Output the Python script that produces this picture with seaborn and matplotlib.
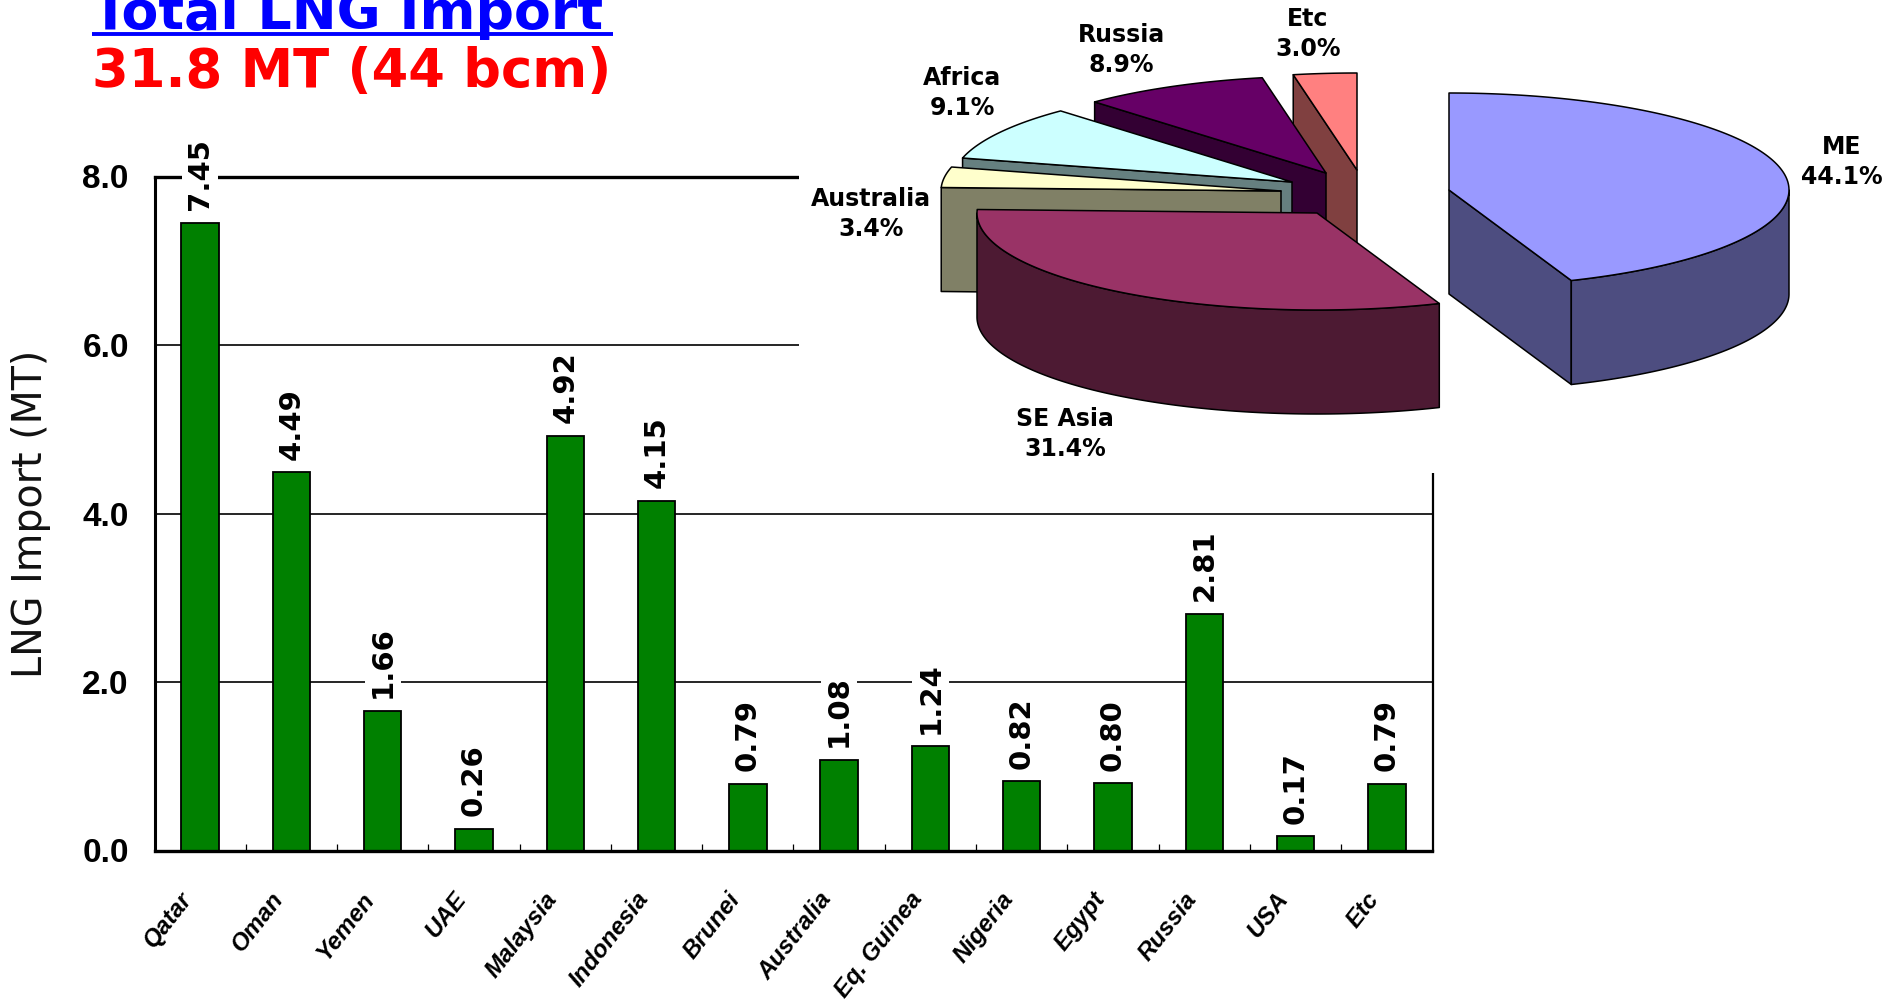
import numpy as np
import pandas as pd
import matplotlib
matplotlib.use("Agg")
import matplotlib.pyplot as plt
from matplotlib.patches import Rectangle
from matplotlib.transforms import ScaledTranslation
import seaborn as sns

# LNG import by source country (MT)
countries = ["Qatar", "Oman", "Yemen", "UAE", "Malaysia", "Indonesia", "Brunei",
             "Australia", "Eq. Guinea", "Nigeria", "Egypt", "Russia", "USA", "Etc"]
imports = [7.45, 4.49, 1.66, 0.26, 4.92, 4.15, 0.79, 1.08, 1.24, 0.82, 0.80, 2.81, 0.17, 0.79]
y_ticks = [0.0, 2.0, 4.0, 6.0, 8.0]

# Regional shares (%), clockwise from twelve o'clock
regions = ["ME", "SE Asia", "Australia", "Africa", "Russia", "Etc"]
shares = [44.1, 31.4, 3.4, 9.1, 8.9, 3.0]

# Slice styling and placement of the exploded 3-D pie, in canvas pixels
top_colors = ["#9999FF", "#993366", "#FFFFCC", "#CCFFFF", "#660066", "#FF8080"]
side_colors = ["#4D4D80", "#4D1A33", "#808066", "#668080", "#330033", "#804040"]
slice_centers = [(1449, 190), (1317, 213), (1281, 191), (1292, 182), (1326, 173), (1357, 170)]
label_centers = [(1842, 162), (1065, 434), (871, 214), (962, 93), (1121, 50), (1308, 34)]
RX, RY, DEPTH = 340, 97, 104

W, H = 1902, 1002
sns.set_theme(style="white")
plt.rcParams["font.family"] = ["DejaVu Sans"]
fig = plt.figure(figsize=(W / 100, H / 100), dpi=100, facecolor="white")

# Bar chart
L, R, T, B = 154.5, 1432.5, 176.5, 850.5
ax = fig.add_axes([L / W, 1 - B / H, (R - L) / W, (B - T) / H])
df = pd.DataFrame({"country": countries, "imports": imports})
sns.barplot(data=df, x="country", y="imports", color="#008000", saturation=1,
            width=0.41, edgecolor="black", linewidth=1.3, ax=ax, zorder=2)
ax.set_xlim(-0.5, len(countries) - 0.5)
ax.set_ylim(0, 8)
ax.set_axisbelow(True)
ax.yaxis.grid(True, color="black", linewidth=1.2)
ax.xaxis.grid(False)
ax.set_yticks(y_ticks)
ax.set_yticklabels([f"{t:.1f}" for t in y_ticks], fontfamily="Liberation Sans",
                   fontweight="bold", fontsize=24, color="black")
ax.tick_params(axis="y", length=0, pad=18.5)
ax.set_xlabel("")
ax.set_ylabel("LNG Import (MT)", fontsize=28.5, color="#111111", va="center")
ax.yaxis.set_label_coords((31 - L) / (R - L), 0.5)

ax.set_xticks(np.arange(len(countries)))
ax.set_xticks(np.arange(len(countries) - 1) + 0.5, minor=True)
ax.tick_params(axis="x", which="major", length=0, pad=32)
ax.tick_params(axis="x", which="minor", direction="in", length=5, width=0.9, color="black", bottom=True)
ax.set_xticklabels(countries, rotation=52, ha="right", va="center", rotation_mode="anchor",
                   fontfamily="Liberation Sans", fontweight="bold", fontstyle="italic",
                   fontsize=17.5, color="black")
shift = ScaledTranslation(-12 / 100, 0, fig.dpi_scale_trans)
for lab in ax.get_xticklabels():
    lab.set_transform(lab.get_transform() + shift)

for name, width in (("left", 2.2), ("bottom", 2.4), ("top", 2.4), ("right", 1.6)):
    ax.spines[name].set_visible(True)
    ax.spines[name].set_color("black")
    ax.spines[name].set_linewidth(width)

for i, v in enumerate(imports):
    ax.annotate(f"{v:.2f}", (i, v), xytext=(0, 9), textcoords="offset points",
                rotation=90, ha="center", va="bottom", fontsize=21, fontweight="bold",
                color="black", zorder=6, annotation_clip=False,
                bbox=dict(boxstyle="square,pad=0.14", fc="white", ec="none"))

# Canvas-wide overlay in pixel units for the titles and the pie
ov = fig.add_axes([0, 0, 1, 1], zorder=5)
ov.set_xlim(0, W)
ov.set_ylim(H, 0)
ov.axis("off")
ov.add_patch(Rectangle((799, -5), W - 799, 478, fc="white", ec="none", zorder=1))

ov.text(92, 29, "Total LNG Import", color="#0000FF", fontsize=38.7, fontweight="bold",
        va="baseline", ha="left", zorder=3)
ov.plot([92, 613], [33.5, 33.5], color="#0000FF", lw=2.8, solid_capstyle="butt", zorder=3)
ov.text(92, 87, "31.8 MT (44 bcm)", color="#FF0000", fontsize=38, fontweight="bold",
        va="baseline", ha="left", zorder=3)


def rim(a1, a2, cx, cy):
    """Rim points of the top face between two clockwise angles (degrees from north)."""
    t = np.radians(np.linspace(a1, a2, max(int(abs(a2 - a1)) * 2, 2)))
    return cx + RX * np.sin(t), cy - RY * np.cos(t)


fractions = np.array(shares) / np.sum(shares)
ends = np.cumsum(fractions) * 360
starts = ends - fractions * 360
edge = dict(edgecolor="black", linewidth=1.1, joinstyle="round")

# Painted from the back slice to the front one
for idx in range(len(shares) - 1, -1, -1):
    a1, a2 = starts[idx], ends[idx]
    cx, cy = slice_centers[idx]
    z = 10 + (len(shares) - idx)
    for ang, visible in ((a1, np.sin(np.radians(a1)) < -1e-6), (a2, np.sin(np.radians(a2)) > 1e-6)):
        if visible:
            ex, ey = rim(ang, ang, cx, cy)
            ov.fill([cx, ex[0], ex[0], cx], [cy, ey[0], ey[0] + DEPTH, cy + DEPTH],
                    facecolor=side_colors[idx], zorder=z, **edge)
    lo, hi = max(a1, 90), min(a2, 270)
    if hi > lo:
        ex, ey = rim(lo, hi, cx, cy)
        ov.fill(np.r_[ex, ex[::-1]], np.r_[ey, ey[::-1] + DEPTH],
                facecolor=side_colors[idx], zorder=z, **edge)
    ex, ey = rim(a1, a2, cx, cy)
    ov.fill(np.r_[cx, ex], np.r_[cy, ey], facecolor=top_colors[idx], zorder=z, **edge)

for name, share, (lx, ly) in zip(regions, shares, label_centers):
    ov.text(lx, ly, f"{name}\n{share:.1f}%", ha="center", va="center", fontsize=17,
            fontweight="bold", color="black", linespacing=1.3, zorder=30)

fig.savefig("out.png", dpi=100, facecolor="white")
